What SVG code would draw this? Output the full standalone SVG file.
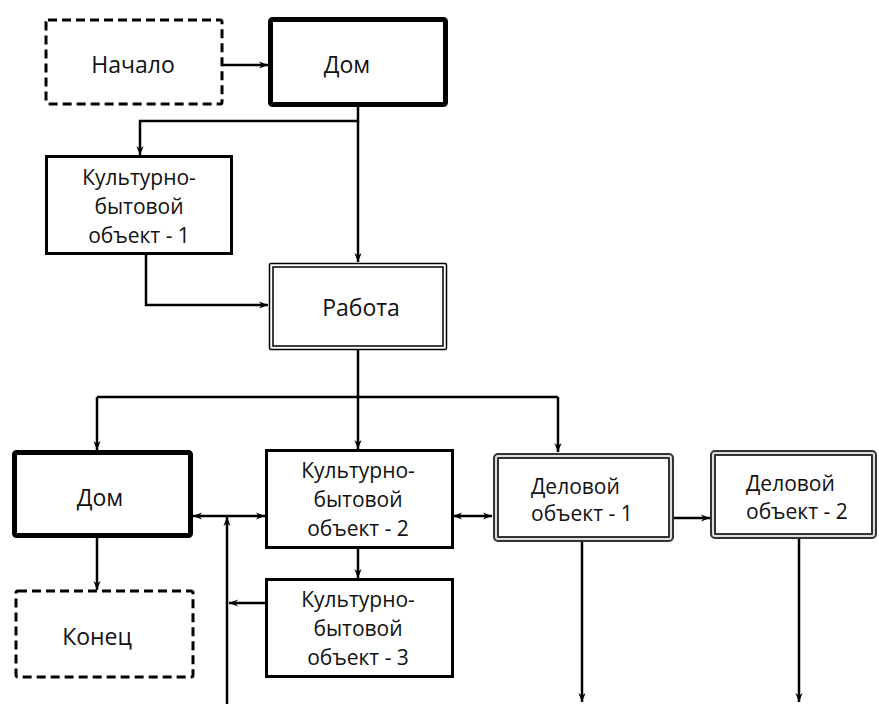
<svg xmlns="http://www.w3.org/2000/svg" width="879" height="704" viewBox="0 0 879 704">
<defs>
<marker id="ah" viewBox="0 0 10 10" refX="10" refY="5" markerWidth="10" markerHeight="9" markerUnits="userSpaceOnUse" orient="auto-start-reverse">
<path d="M0,1 L10,5 L0,9 L3,5 z" fill="#000"/>
</marker>
</defs>
<style>
text{font-family:"Open Sans","Noto Sans","Liberation Sans",sans-serif;font-size:21px;fill:#111}
.big{font-size:23px}
.c{text-anchor:middle}
.dash{fill:#fff;stroke:#000;stroke-width:3;stroke-dasharray:9,5}
.thick{fill:#fff;stroke:#000;stroke-width:5}
.plain{fill:#fff;stroke:#000;stroke-width:3}
.thin{fill:none;stroke:#000;stroke-width:1.5}
.dbl-o{fill:#fff;stroke:#333;stroke-width:6}
.dbl-i{fill:none;stroke:#ddd;stroke-width:2}
.ln{fill:none;stroke:#000;stroke-width:2.5}
.ar{marker-end:url(#ah)}
.ar2{marker-start:url(#ah);marker-end:url(#ah)}
</style>

<g id="start">
<rect class="dash" x="46" y="20" width="176" height="84" rx="2"/>
<text class="c big" x="133" y="73">Начало</text>
</g>
<g id="home1">
<rect class="thick" x="270.5" y="19.5" width="175" height="85" rx="2"/>
<text class="c big" x="347" y="73">Дом</text>
</g>
<g id="kbo1">
<rect class="plain" x="46.5" y="156.5" width="185" height="97"/>
<text class="c" x="139" y="185">Культурно-</text>
<text class="c" x="139" y="214">бытовой</text>
<text class="c" x="139" y="243">объект - 1</text>
</g>
<g id="work">
<rect class="thin" x="269.5" y="263.5" width="177" height="86" rx="1.5"/>
<rect class="thin" x="273" y="267" width="170" height="79"/>
<text class="c big" x="361" y="316">Работа</text>
</g>
<g id="home2">
<rect class="thick" x="14.5" y="452.5" width="176" height="83" rx="2"/>
<text class="c big" x="100" y="506">Дом</text>
</g>
<g id="kbo2">
<rect class="plain" x="266.5" y="450.5" width="186" height="97"/>
<text class="c" x="358" y="478">Культурно-</text>
<text class="c" x="358" y="507">бытовой</text>
<text class="c" x="358" y="536">объект - 2</text>
</g>
<g id="kbo3">
<rect class="plain" x="266.5" y="579.5" width="186" height="97"/>
<text class="c" x="358" y="607">Культурно-</text>
<text class="c" x="358" y="636">бытовой</text>
<text class="c" x="358" y="665">объект - 3</text>
</g>
<g id="end">
<rect class="dash" x="16" y="591" width="177" height="86" rx="2"/>
<text class="c big" x="97" y="645">Конец</text>
</g>
<g id="biz1">
<rect class="dbl-o" x="496" y="456" width="175" height="83" rx="2"/>
<rect class="dbl-i" x="496" y="456" width="175" height="83" rx="2"/>
<text x="531" y="494">Деловой</text>
<text x="531" y="521">объект - 1</text>
</g>
<g id="biz2">
<rect class="dbl-o" x="713" y="453" width="161" height="83" rx="2"/>
<rect class="dbl-i" x="713" y="453" width="161" height="83" rx="2"/>
<text x="746" y="491">Деловой</text>
<text x="746" y="519">объект - 2</text>
</g>

<g id="connectors">
<path class="ln ar" d="M222,65 H268"/>
<path class="ln ar" d="M358,107 V121 H140 V155"/>
<path class="ln ar" d="M358,121 V262"/>
<path class="ln ar" d="M146,254 V305 H268"/>
<path class="ln" d="M358,350 V397 M97,397 H558"/>
<path class="ln ar" d="M97,397 V450"/>
<path class="ln ar" d="M358,397 V449"/>
<path class="ln ar" d="M558,397 V452"/>
<path class="ln ar2" d="M193,516 H265"/>
<path class="ln ar" d="M227,704 V517"/>
<path class="ln ar" d="M266,603 H229"/>
<path class="ln ar" d="M358,548 V578"/>
<path class="ln ar" d="M97,538 V590"/>
<path class="ln ar2" d="M453,516 H492"/>
<path class="ln ar" d="M674,518 H710"/>
<path class="ln ar" d="M582,542 V702"/>
<path class="ln ar" d="M799,539 V702"/>
</g>
</svg>
